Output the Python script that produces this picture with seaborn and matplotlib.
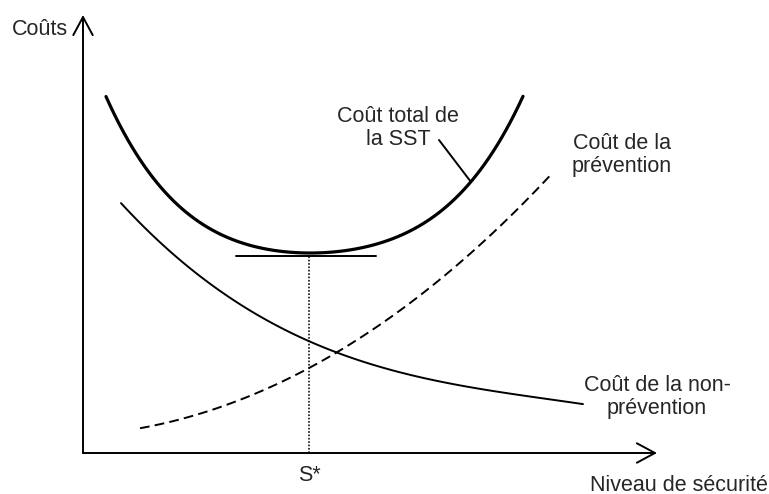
import matplotlib
matplotlib.use("Agg")
import matplotlib.pyplot as plt
import seaborn as sns

# values (figure units: x to the right, y upward)
total_x = [106, 123, 140, 157, 190, 223, 257, 290, 310, 330, 350, 370, 403, 437, 470, 488, 513, 523]
total_y = [401, 357, 333, 314, 281, 259, 246, 241, 239, 241, 245, 249, 261, 281, 311, 333, 374, 401]

nonprev_x = [121, 140, 167, 203, 233, 270, 308, 338, 397, 463, 530, 570, 583]
nonprev_y = [291, 272, 246, 214, 191, 172, 156, 142, 124, 106, 96, 92, 91]

prev_x = [140, 180, 220, 257, 283, 308, 338, 350, 370, 380, 403, 430, 450, 470, 487, 510, 530, 552]
prev_y = [66, 74, 87, 101, 114, 126, 141, 149, 162, 169, 187, 207, 224, 239, 256, 277, 297, 321]

s_star = 309
min_cost = 238
origin = (83, 41)
x_axis_end = 657
y_axis_end = 479

sns.set_style("white")
plt.rcParams['font.family'] = ['Liberation Sans', 'DejaVu Sans']
fs = 15.5

fig = plt.figure(figsize=(7.69, 4.94), dpi=100)
ax = fig.add_axes([0, 0, 1, 1])

# axes with open arrow heads
arrow = dict(arrowstyle='->,head_length=1.3,head_width=0.7', lw=1.4, color='black',
             shrinkA=0, shrinkB=0)
ax.annotate('', xy=(x_axis_end, origin[1]), xytext=origin, arrowprops=arrow)
ax.annotate('', xy=(origin[0], y_axis_end), xytext=origin, arrowprops=arrow)

# smooth curves fitted through the read points
sns.regplot(x=total_x, y=total_y, ax=ax, order=4, ci=None, scatter=False, truncate=True,
            color='black', line_kws=dict(lw=2.3))
sns.regplot(x=nonprev_x, y=nonprev_y, ax=ax, order=3, ci=None, scatter=False, truncate=True,
            color='black', line_kws=dict(lw=1.4))
sns.regplot(x=prev_x, y=prev_y, ax=ax, order=3, ci=None, scatter=False, truncate=True,
            color='black', line_kws=dict(lw=1.4, linestyle=(0, (5, 2.7))))

# tangent at the minimum and the S* marker
ax.plot([236, 376], [min_cost, min_cost], color='black', lw=1.4)
ax.plot([s_star, s_star], [origin[1], min_cost], color='black', lw=1.1,
        linestyle=(0, (1.1, 1.1)))

# leader line for the total cost label
ax.plot([439, 471], [354, 312], color='black', lw=1.4)

# labels
ax.text(12, 464, 'Coûts', fontsize=fs, ha='left', va='center')
ax.text(398, 366, 'Coût total de\nla SST', fontsize=fs, ha='center', va='center',
        linespacing=1.1)
ax.text(622, 339, 'Coût de la\nprévention', fontsize=fs, ha='center', va='center',
        linespacing=1.1)
ax.text(657, 97, 'Coût de la non-\nprévention', fontsize=fs, ha='center', va='center',
        linespacing=1.1)
ax.text(s_star, 19, 'S*', fontsize=fs, ha='center', va='center')
ax.text(590, 9, 'Niveau de sécurité', fontsize=fs, ha='left', va='center')

ax.set_xlim(0, 769)
ax.set_ylim(0, 494)
ax.axis('off')

fig.savefig('out.png', dpi=100)
